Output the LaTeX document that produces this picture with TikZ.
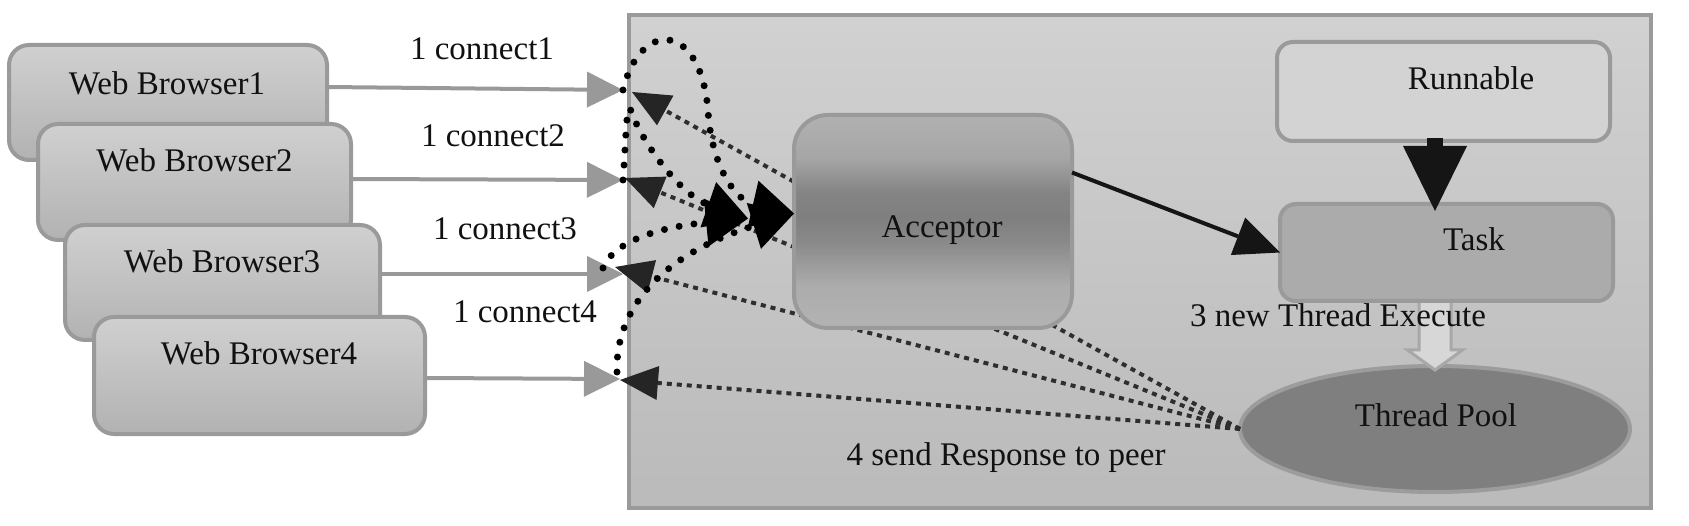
\documentclass[tikz,border=0pt]{standalone}
\usepackage{fontspec}
\setmainfont{Liberation Serif}
\usetikzlibrary{arrows.meta,shapes.geometric,calc}
\definecolor{txt}{HTML}{111111}
\definecolor{bordergray}{HTML}{9A9A9A}
\definecolor{wbtop}{HTML}{D0D0D0}
\definecolor{wbbot}{HTML}{B2B2B2}
\definecolor{conttop}{HTML}{D1D1D1}
\definecolor{contbot}{HTML}{BABABA}
\definecolor{runfill}{HTML}{D3D3D3}
\definecolor{taskfill}{HTML}{ABABAB}
\definecolor{tpfill}{HTML}{7F7F7F}
\definecolor{tpborder}{HTML}{9C9C9C}
\definecolor{graylinkc}{HTML}{999999}
\definecolor{dashc}{HTML}{2E2E2E}
\definecolor{dashheadc}{HTML}{252525}
\definecolor{solidc}{HTML}{151515}
\definecolor{hollowfill}{HTML}{D7D7D7}
\definecolor{hollowdraw}{HTML}{A8A8A8}
\definecolor{accA}{HTML}{B3B3B3}
\definecolor{accB}{HTML}{ACACAC}
\definecolor{accC}{HTML}{8A8A8A}
\definecolor{accD}{HTML}{7F7F7F}
\definecolor{accE}{HTML}{848484}
\definecolor{accF}{HTML}{A6A6A6}
\definecolor{accG}{HTML}{B1B1B1}
\pgfdeclareverticalshading{accshade}{100bp}{color(0bp)=(accA); color(25bp)=(accA); color(35bp)=(accB); color(45bp)=(accC); color(51bp)=(accD); color(57bp)=(accE); color(65bp)=(accF); color(75bp)=(accG); color(100bp)=(accG)}
\begin{document}
\begin{tikzpicture}[x=1pt,y=-1pt,
  every node/.style={inner sep=0pt, outer sep=0pt},
  txtnode/.style={anchor=base, text=txt, font=\fontsize{33}{40}\selectfont},
  contbox/.style={draw=bordergray, line width=4pt, top color=conttop, bottom color=contbot},
  wbbox/.style={draw=bordergray, line width=4pt, rounded corners=20pt, top color=wbtop, bottom color=wbbot},
  runbox/.style={draw=bordergray, line width=4pt, rounded corners=16pt, fill=runfill},
  taskbox/.style={draw=bordergray, line width=4pt, rounded corners=16pt, fill=taskfill},
  accbox/.style={draw=bordergray, line width=4pt, rounded corners=34pt, shading=accshade},
  tpnode/.style={ellipse, draw=tpborder, line width=4pt, fill=tpfill},
  graylink/.style={draw=graylinkc, line width=4pt, -{Triangle[length=36pt,width=36pt,line width=0pt]}},
  resplink/.style={draw=dashc, line width=4pt, dash pattern=on 5pt off 5pt, -{Triangle[length=38pt,width=34pt,line width=0pt,fill=dashheadc,color=dashheadc]}},
  connlink/.style={draw=black, line width=7pt, line cap=round, dash pattern=on 0pt off 15pt, -{Triangle[length=42pt,width=48pt,line width=0pt]}},
  solidlink/.style={draw=solidc, line width=4pt, -{Triangle[length=45pt,width=40pt,line width=0pt]}},
  runlink/.style={draw=solidc, line width=16pt, -{Triangle[length=65pt,width=64pt,line width=0pt]}},
  hollow/.style={fill=hollowfill, draw=hollowdraw, line width=3pt, line join=miter}
]
\useasboundingbox (0,0) rectangle (1689,526);

% cluster
\node[contbox, minimum width=1022pt, minimum height=493pt] (cluster) at (1140,261.5) {};

% browsers
\node[wbbox, minimum width=318pt, minimum height=115pt] (wb1) at (168,102.5) {};
\node[txtnode] (wb1t) at (167,95) {Web Browser1};
\node[wbbox, minimum width=313pt, minimum height=116pt] (wb2) at (194.5,182) {};
\node[txtnode] (wb2t) at (194.5,172) {Web Browser2};
\node[wbbox, minimum width=315pt, minimum height=115pt] (wb3) at (222.5,282.5) {};
\node[txtnode] (wb3t) at (222,273) {Web Browser3};
\node[wbbox, minimum width=331pt, minimum height=117pt] (wb4) at (259.5,375.5) {};
\node[txtnode] (wb4t) at (259,365) {Web Browser4};

% entry points on the cluster edge
\coordinate (p1) at (623,90);
\coordinate (p2) at (623,180);
\coordinate (p3) at (623,274);
\coordinate (p4) at (620,379);
\coordinate (q3) at (603,268);
\coordinate (q4) at (617,372);
\coordinate (r1) at (632,92);
\coordinate (r2) at (625,178);
\coordinate (r3) at (615,267);
\coordinate (r4) at (620,380);

\draw[graylink] ([yshift=15.5pt]wb1.east) -- (p1);
\draw[graylink] ([yshift=3pt]wb2.east) -- (p2);
\draw[graylink] ([yshift=8.5pt]wb3.east) -- (p3);
\draw[graylink] ([yshift=-2.5pt]wb4.east) -- (p4);

% thread pool and hollow arrow
\node[tpnode, minimum width=390pt, minimum height=126pt] (tp) at (1435,429) {};
\filldraw[hollow] ($(tp.north)+(-16,-68)$) -- ($(tp.north)+(-16,-16)$) -- ($(tp.north)+(-27.5,-16)$) -- ($(tp.north)+(0,4)$) -- ($(tp.north)+(27.5,-16)$) -- ($(tp.north)+(16,-16)$) -- ($(tp.north)+(16,-68)$) -- cycle;

% task and runnable
\node[taskbox, minimum width=333pt, minimum height=97pt] (task) at (1446.5,252.5) {};
\node[runbox, minimum width=333pt, minimum height=99pt] (run) at (1443.5,91.5) {};

% responses
\draw[resplink] (tp.west) -- (r1);
\draw[resplink] (tp.west) -- (r2);
\draw[resplink] (tp.west) -- (r3);
\draw[resplink] (tp.west) -- (r4);

% acceptor
\node[accbox, minimum width=278pt, minimum height=213pt] (acc) at (933,221.5) {};

% connections into acceptor
\draw[connlink] (p1) .. controls (640,20) and (700,20) .. (708,110) .. controls (711,165) and (735,200) .. ([yshift=8pt]acc.west);
\draw[connlink] (p2) .. controls (626,140) and (626,110) .. (630,108) .. controls (640,140) and (680,195) .. ([xshift=-46pt,yshift=3pt]acc.west);
\draw[connlink] (q3) .. controls (612,245) and (650,228) .. ([xshift=-46pt,yshift=3pt]acc.west);
\draw[connlink] (q4) .. controls (615,310) and (660,255) .. ([yshift=8pt]acc.west);

% acceptor -> task, runnable -> task
\draw[solidlink] ([yshift=49pt]acc.east) -- (task.west);
\draw[runlink] ($(run.south -| tp.north)+(0,-3)$) -- ($(task.north -| tp.north)+(0,7)$);

% texts
\node[txtnode] (acct) at (942,238) {Acceptor};
\node[txtnode] (runt) at (1471,90) {Runnable};
\node[txtnode] (taskt) at (1474,251) {Task};
\node[txtnode] (tpt) at (1436,426) {Thread Pool};
\node[txtnode] (c1) at (482,60) {1 connect1};
\node[txtnode] (c2) at (493,147) {1 connect2};
\node[txtnode] (c3) at (505,240) {1 connect3};
\node[txtnode] (c4) at (525,323) {1 connect4};
\node[txtnode] (exec) at (1338,327) {3 new Thread Execute};
\node[txtnode] (resp) at (1006,465) {4 send Response to peer};
\end{tikzpicture}
\end{document}
